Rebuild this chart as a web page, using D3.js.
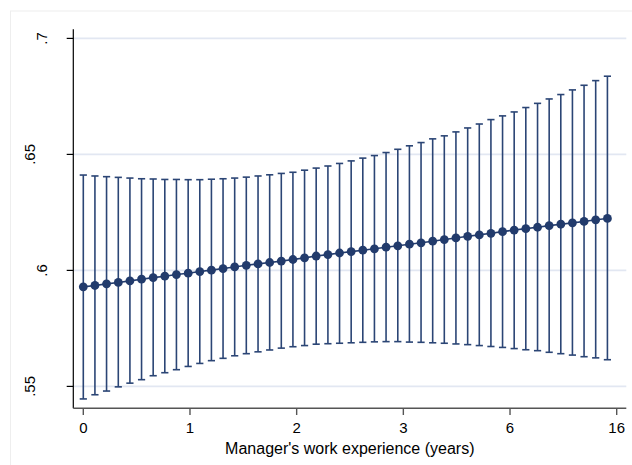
<!DOCTYPE html>
<html>
<head>
<meta charset="utf-8">
<script src="https://cdn.jsdelivr.net/npm/d3@7"></script>
<style>
  html, body { margin: 0; padding: 0; background: #ffffff; }
  svg { display: block; }
  text { font-family: "Liberation Sans", Arial, Helvetica, sans-serif; fill: #000; }
</style>
</head>
<body>
<svg id="chart" width="632" height="465"></svg>
<script>
// Evaluation points on the experience axis (axis units; ticks sit at 0..5)
const xPositions = [0, 0.109, 0.218, 0.328, 0.437, 0.546, 0.655, 0.764, 0.873, 0.983,
  1.092, 1.201, 1.310, 1.419, 1.528, 1.638, 1.747, 1.856, 1.965, 2.074,
  2.183, 2.293, 2.402, 2.511, 2.620, 2.729, 2.838, 2.948, 3.057, 3.166,
  3.275, 3.384, 3.493, 3.603, 3.712, 3.821, 3.930, 4.039, 4.148, 4.258,
  4.367, 4.476, 4.585, 4.694, 4.803, 4.913];

// Predicted margin at each evaluation point
const margins = [0.5929, 0.5935, 0.5942, 0.5948, 0.5955, 0.5962, 0.5969, 0.5975, 0.5982, 0.5988,
  0.5995, 0.6001, 0.6008, 0.6015, 0.6022, 0.6028, 0.6034, 0.6040, 0.6047, 0.6054,
  0.6062, 0.6068, 0.6075, 0.6081, 0.6087, 0.6093, 0.6100, 0.6106, 0.6113, 0.6119,
  0.6126, 0.6133, 0.6140, 0.6147, 0.6153, 0.6160, 0.6167, 0.6174, 0.6180, 0.6186,
  0.6193, 0.6199, 0.6205, 0.6211, 0.6218, 0.6224];

// 95% confidence interval bounds
const ciLower = [0.5446, 0.5464, 0.5480, 0.5498, 0.5514, 0.5529, 0.5546, 0.5559, 0.5572, 0.5586,
  0.5599, 0.5611, 0.5621, 0.5632, 0.5641, 0.5649, 0.5657, 0.5665, 0.5671, 0.5676,
  0.5682, 0.5684, 0.5686, 0.5688, 0.5690, 0.5692, 0.5693, 0.5693, 0.5691, 0.5690,
  0.5688, 0.5686, 0.5683, 0.5680, 0.5676, 0.5672, 0.5668, 0.5663, 0.5658, 0.5654,
  0.5647, 0.5641, 0.5635, 0.5628, 0.5623, 0.5615];

const ciUpper = [0.6411, 0.6407, 0.6404, 0.6401, 0.6398, 0.6395, 0.6394, 0.6392, 0.6392, 0.6391,
  0.6391, 0.6393, 0.6395, 0.6398, 0.6402, 0.6407, 0.6412, 0.6418, 0.6423, 0.6432,
  0.6441, 0.6450, 0.6461, 0.6472, 0.6484, 0.6495, 0.6508, 0.6522, 0.6537, 0.6551,
  0.6567, 0.6580, 0.6597, 0.6614, 0.6631, 0.6650, 0.6666, 0.6683, 0.6702, 0.6720,
  0.6739, 0.6758, 0.6778, 0.6798, 0.6818, 0.6837];

// Axis ticks and their labels
const xTickValues = [0, 1, 2, 3, 4, 5];
const xTickLabels = ["0", "1", "2", "3", "6", "16"];
const yTickValues = [0.55, 0.6, 0.65, 0.7];
const yTickLabels = [".55", ".6", ".65", ".7"];

const xTitle = "Manager's work experience (years)";

const navy = "#223b6c";
const ciColor = "#2b4575";

const svg = d3.select("#chart");

// Plot region edges
const plotLeft = 73.3, plotRight = 626.3, plotTop = 29.3, plotBottom = 408.3;

const x = d3.scaleLinear().domain([0, 5]).range([83.3, 616.7]);
const y = d3.scaleLinear().domain([0.55, 0.7]).range([386.4, 38.4]);

// Light outer frame of the graph region
svg.append("rect")
  .attr("x", 10.5).attr("y", 11)
  .attr("width", 640).attr("height", 470)
  .attr("fill", "none")
  .attr("stroke", "#eeeeee")
  .attr("stroke-width", 1);

// Horizontal gridlines
svg.append("g")
  .selectAll("line")
  .data(yTickValues)
  .join("line")
  .attr("x1", plotLeft).attr("x2", plotRight)
  .attr("y1", d => y(d)).attr("y2", d => y(d))
  .attr("stroke", "#e2e7f2")
  .attr("stroke-width", 1.6);

// Y axis
const yAxisG = svg.append("g").attr("transform", `translate(${plotLeft},0)`);
yAxisG.append("line")
  .attr("x1", 0).attr("x2", 0).attr("y1", plotTop).attr("y2", plotBottom)
  .attr("stroke", "#000").attr("stroke-width", 1.2);
yAxisG.selectAll("line.tick")
  .data(yTickValues)
  .join("line")
  .attr("class", "tick")
  .attr("x1", -6.6).attr("x2", 0)
  .attr("y1", d => y(d)).attr("y2", d => y(d))
  .attr("stroke", "#000").attr("stroke-width", 1.2);

// Rotated y labels, staggered on two rows
svg.append("g")
  .selectAll("text")
  .data(yTickValues)
  .join("text")
  .attr("transform", (d, i) => `translate(${i % 2 === 0 ? 34.5 : 47},${y(d)}) rotate(-90)`)
  .attr("text-anchor", "middle")
  .style("font-size", "15px")
  .text((d, i) => yTickLabels[i]);

// X axis
const xAxisG = svg.append("g").attr("transform", `translate(0,${plotBottom})`);
xAxisG.append("line")
  .attr("x1", plotLeft).attr("x2", plotRight).attr("y1", 0).attr("y2", 0)
  .attr("stroke", "#555").attr("stroke-width", 1.6);
xAxisG.selectAll("line.tick")
  .data(xTickValues)
  .join("line")
  .attr("class", "tick")
  .attr("x1", d => x(d)).attr("x2", d => x(d))
  .attr("y1", 0).attr("y2", 6.7)
  .attr("stroke", "#555").attr("stroke-width", 1.4);
xAxisG.selectAll("text")
  .data(xTickValues)
  .join("text")
  .attr("x", d => x(d))
  .attr("y", 24.4)
  .attr("text-anchor", "middle")
  .style("font-size", "15px")
  .text((d, i) => xTickLabels[i]);

// X axis title
svg.append("text")
  .attr("x", (plotLeft + plotRight) / 2)
  .attr("y", 454)
  .attr("text-anchor", "middle")
  .style("font-size", "16px")
  .text(xTitle);

const pts = xPositions.map((xv, i) => ({ x: xv, m: margins[i], lo: ciLower[i], hi: ciUpper[i] }));

// Confidence interval spikes with caps
const ci = svg.append("g").attr("stroke", ciColor).attr("stroke-width", 1.6).attr("fill", "none");
ci.selectAll("line.spike")
  .data(pts)
  .join("line")
  .attr("class", "spike")
  .attr("x1", d => x(d.x)).attr("x2", d => x(d.x))
  .attr("y1", d => y(d.lo)).attr("y2", d => y(d.hi));
ci.selectAll("line.capHi")
  .data(pts)
  .join("line")
  .attr("class", "capHi")
  .attr("x1", d => x(d.x) - 3.6).attr("x2", d => x(d.x) + 3.6)
  .attr("y1", d => y(d.hi)).attr("y2", d => y(d.hi));
ci.selectAll("line.capLo")
  .data(pts)
  .join("line")
  .attr("class", "capLo")
  .attr("x1", d => x(d.x) - 3.6).attr("x2", d => x(d.x) + 3.6)
  .attr("y1", d => y(d.lo)).attr("y2", d => y(d.lo));

// Connecting line through the margins
svg.append("path")
  .datum(pts)
  .attr("fill", "none")
  .attr("stroke", navy)
  .attr("stroke-width", 1.6)
  .attr("d", d3.line().x(d => x(d.x)).y(d => y(d.m)));

// Margin markers
svg.append("g")
  .selectAll("circle")
  .data(pts)
  .join("circle")
  .attr("cx", d => x(d.x))
  .attr("cy", d => y(d.m))
  .attr("r", 4.4)
  .attr("fill", navy);
</script>
</body>
</html>
